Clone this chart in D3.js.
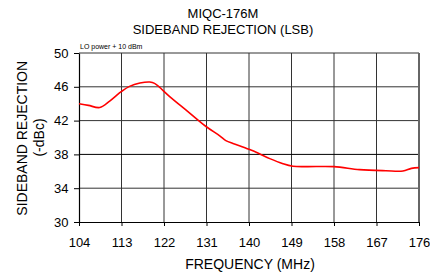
<!DOCTYPE html>
<html>
<head>
<meta charset="utf-8">
<script src="https://cdn.jsdelivr.net/npm/d3@7"></script>
<style>
  body { margin: 0; background: #fff; }
  svg { font-family: "Liberation Sans", Arial, sans-serif; }
</style>
</head>
<body>
<svg id="chart"></svg>
<script>
// Dati
const freq = [104, 106, 108.4, 110.5, 113, 114.7, 116.9, 119, 120, 123.2, 127, 130.9, 133.8, 135.2, 136.6, 140, 142.1, 144.4, 147.2, 149.3, 152.1, 158, 163.4, 169, 172.6, 174.4, 176];
const rejection = [44.0, 43.8, 43.55, 44.3, 45.45, 46.05, 46.44, 46.56, 46.4, 44.85, 43.1, 41.3, 40.2, 39.6, 39.3, 38.6, 38.1, 37.5, 36.9, 36.6, 36.55, 36.55, 36.2, 36.07, 36.04, 36.35, 36.43];
const xTicks = [104, 113, 122, 131, 140, 149, 158, 167, 176];
const yTicks = [30, 34, 38, 42, 46, 50];

const width = 430, height = 272;
const margin = { top: 53, right: 11, bottom: 50, left: 79 };

const svg = d3.select('#chart')
  .attr('width', width)
  .attr('height', height);

const x = d3.scaleLinear()
  .domain([104, 176])
  .range([margin.left, width - margin.right]);

const y = d3.scaleLinear()
  .domain([30, 50])
  .range([height - margin.bottom, margin.top]);

// Griglia
svg.append('g')
  .selectAll('line')
  .data(xTicks.slice(1, -1))
  .join('line')
  .attr('x1', d => x(d)).attr('x2', d => x(d))
  .attr('y1', y(50)).attr('y2', y(30))
  .attr('stroke', '#333').attr('stroke-width', 1);

svg.append('g')
  .selectAll('line')
  .data(yTicks.slice(1))
  .join('line')
  .attr('x1', x(104)).attr('x2', x(176))
  .attr('y1', d => y(d)).attr('y2', d => y(d))
  .attr('stroke', d => d === 38 ? '#000' : '#333').attr('stroke-width', 1);

// Bordo destro
svg.append('line')
  .attr('x1', x(176)).attr('x2', x(176))
  .attr('y1', y(50)).attr('y2', y(30))
  .attr('stroke', '#666').attr('stroke-width', 2);

// Assi
const xAxis = svg.append('g')
  .attr('transform', `translate(0,${y(30)})`)
  .call(d3.axisBottom(x).tickValues(xTicks).tickSize(4).tickSizeOuter(0));

const yAxis = svg.append('g')
  .attr('transform', `translate(${x(104)},0)`)
  .call(d3.axisLeft(y).tickValues(yTicks).tickSize(5).tickSizeOuter(0));

[xAxis, yAxis].forEach(a => {
  a.select('.domain').attr('stroke', '#000').attr('stroke-width', 1.2);
  a.selectAll('.tick line').attr('stroke', '#000');
  a.selectAll('text').attr('font-size', '13px').attr('fill', '#000')
    .attr('font-family', '"Liberation Sans", Arial, sans-serif');
});
xAxis.selectAll('text').attr('dy', null).attr('y', 25);
yAxis.selectAll('text').attr('x', -10.5);

// Curva
const line = d3.line()
  .x((d, i) => x(freq[i]))
  .y(d => y(d))
  .curve(d3.curveCatmullRom.alpha(0.5));

svg.append('path')
  .datum(rejection)
  .attr('fill', 'none')
  .attr('stroke', '#ff0000')
  .attr('stroke-width', 1.6)
  .attr('d', line);

// Titoli
svg.append('text')
  .attr('x', 223).attr('y', 18.3)
  .attr('text-anchor', 'middle')
  .attr('font-size', '13px')
  .text('MIQC-176M');

svg.append('text')
  .attr('x', 223).attr('y', 34.3)
  .attr('text-anchor', 'middle')
  .attr('font-size', '13px')
  .text('SIDEBAND REJECTION (LSB)');

svg.append('text')
  .attr('x', 80).attr('y', 49)
  .attr('font-size', '7px')
  .text('LO power + 10 dBm');

svg.append('text')
  .attr('x', 250).attr('y', 268.7)
  .attr('text-anchor', 'middle')
  .attr('font-size', '14px')
  .text('FREQUENCY (MHz)');

svg.append('text')
  .attr('transform', 'translate(26.7,138.3) rotate(-90)')
  .attr('text-anchor', 'middle')
  .attr('font-size', '14px')
  .text('SIDEBAND REJECTION');

svg.append('text')
  .attr('transform', 'translate(44,137.5) rotate(-90)')
  .attr('text-anchor', 'middle')
  .attr('font-size', '14px')
  .text('(-dBc)');
</script>
</body>
</html>
